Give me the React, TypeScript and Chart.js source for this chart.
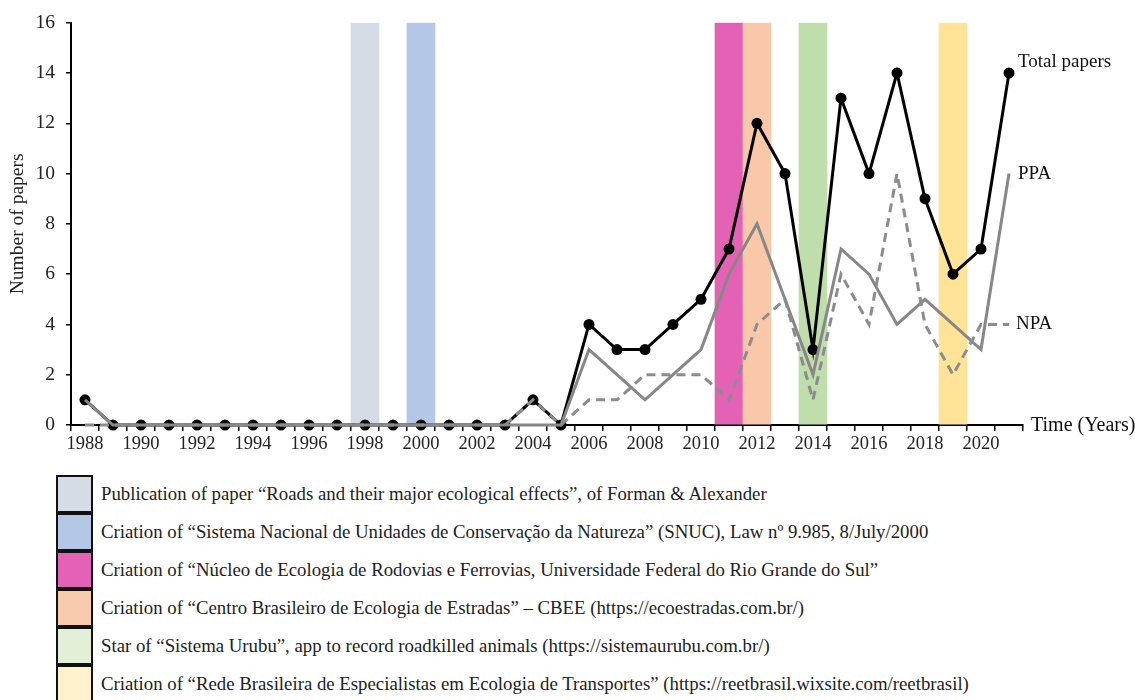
import React, { useEffect, useRef } from "react";
import { Chart, registerables } from "chart.js";

Chart.register(...registerables);

const years: string[] = [];
for (let y = 1988; y <= 2021; y++) years.push(String(y));

const totalPapers = [1, 0, 0, 0, 0, 0, 0, 0, 0, 0, 0, 0, 0, 0, 0, 0, 1, 0, 4, 3, 3, 4, 5, 7, 12, 10, 3, 13, 10, 14, 9, 6, 7, 14];
const ppa = [1, 0, 0, 0, 0, 0, 0, 0, 0, 0, 0, 0, 0, 0, 0, 0, 0, 0, 3, 2, 1, 2, 3, 6, 8, 5, 2, 7, 6, 4, 5, 4, 3, 10];
const npa = [0, 0, 0, 0, 0, 0, 0, 0, 0, 0, 0, 0, 0, 0, 0, 0, 1, 0, 1, 1, 2, 2, 2, 1, 4, 5, 1, 6, 4, 10, 4, 2, 4, 4];

const bandYears = ["1998", "2000", "2011", "2012", "2014", "2019"];
const bandColors = ["#D5DCE5", "#B4C7E7", "#E462B6", "#F8C8A8", "#C0DDAC", "#FFE497"];
const legendColors = ["#D6DCE5", "#B4C7E7", "#E462B6", "#F8CBAD", "#E2F0D9", "#FFF2CC"];
const legendTexts = [
  "Publication of paper \u201cRoads and their major ecological effects\u201d, of Forman & Alexander",
  "Criation of \u201cSistema Nacional de Unidades de Conserva\u00e7\u00e3o da Natureza\u201d (SNUC), Law n\u00ba 9.985, 8/July/2000",
  "Criation of \u201cN\u00facleo de Ecologia de Rodovias e Ferrovias, Universidade Federal do Rio Grande do Sul\u201d",
  "Criation of \u201cCentro Brasileiro de Ecologia de Estradas\u201d \u2013 CBEE (https://ecoestradas.com.br/)",
  "Star of \u201cSistema Urubu\u201d, app to record roadkilled animals (https://sistemaurubu.com.br/)",
  "Criation of \u201cRede Brasileira de Especialistas em Ecologia de Transportes\u201d (https://reetbrasil.wixsite.com/reetbrasil)",
];

const seriesLabels = ["Total papers", "PPA", "NPA"];
const yTicks = [0, 2, 4, 6, 8, 10, 12, 14, 16];
const xTitle = "Time (Years)";
const yTitle = "Number of papers";

const FONT = "'Liberation Serif', 'Times New Roman', serif";

export default function App() {
  const ref = useRef<HTMLCanvasElement>(null);

  useEffect(() => {
    if (!ref.current) return;
    const bandData = years.map((y) => (bandYears.includes(y) ? 16 : null));
    const bandBg = years.map((y) => {
      const i = bandYears.indexOf(y);
      return i >= 0 ? bandColors[i] : "rgba(0,0,0,0)";
    });

    const labelPlugin = {
      id: "endLabels",
      afterDatasetsDraw(chart: any) {
        const ctx = chart.ctx;
        const xs = chart.scales.x;
        const ys = chart.scales.y;
        const last = years.length - 1;
        const xEnd = xs.getPixelForValue(last);
        ctx.save();
        ctx.fillStyle = "#111";
        ctx.font = `19px ${FONT}`;
        ctx.textAlign = "left";
        ctx.textBaseline = "middle";
        ctx.fillText(seriesLabels[0], xEnd + 9, ys.getPixelForValue(totalPapers[last]) - 11);
        ctx.fillText(seriesLabels[1], xEnd + 9, ys.getPixelForValue(ppa[last]));
        ctx.fillText(seriesLabels[2], xEnd + 7, ys.getPixelForValue(npa[last]));
        ctx.font = `20px ${FONT}`;
        ctx.fillText(xTitle, chart.chartArea.right + 8, ys.getPixelForValue(0) + 1);
        ctx.restore();
      },
    };

    const chart = new Chart(ref.current, {
      type: "line",
      data: {
        labels: years,
        datasets: [
          {
            type: "bar",
            label: "bands",
            data: bandData as any,
            backgroundColor: bandBg,
            barPercentage: 1,
            categoryPercentage: 1,
            order: 10,
            grouped: false,
          } as any,
          {
            label: seriesLabels[2],
            data: npa,
            borderColor: "#8C8C8C",
            borderWidth: 3,
            borderDash: [9, 6],
            pointRadius: 0,
            fill: false,
            order: 1,
            clip: false,
          } as any,
          {
            label: seriesLabels[1],
            data: ppa,
            borderColor: "#878787",
            borderWidth: 3,
            pointRadius: 0,
            fill: false,
            order: 2,
            clip: false,
          } as any,
          {
            label: seriesLabels[0],
            data: totalPapers,
            borderColor: "#000",
            borderWidth: 3,
            pointRadius: 5.5,
            pointBackgroundColor: "#000",
            pointBorderColor: "#000",
            pointBorderWidth: 0,
            fill: false,
            order: 3,
            clip: false,
          } as any,
        ],
      },
      options: {
        responsive: false,
        animation: false,
        devicePixelRatio: 1,
        layout: { padding: { left: 0, right: 112, top: 19, bottom: 0 } },
        plugins: { legend: { display: false }, tooltip: { enabled: false } },
        scales: {
          x: {
            type: "category",
            offset: true,
            grid: {
              offset: true,
              drawOnChartArea: false,
              drawTicks: true,
              tickLength: 6,
              color: "#000",
              lineWidth: 1.5,
            },
            border: { display: true, color: "#000", width: 2 },
            ticks: {
              autoSkip: false,
              maxRotation: 0,
              minRotation: 0,
              padding: 2,
              color: "#222",
              font: { family: FONT, size: 18.5 },
              callback: (_v: any, i: number) => (i % 2 === 0 ? years[i] : ""),
            },
            afterFit: (s: any) => {
              s.height = 40;
            },
          },
          y: {
            min: 0,
            max: 16,
            afterBuildTicks: (s: any) => {
              s.ticks = yTicks.map((v) => ({ value: v }));
            },
            grid: {
              drawOnChartArea: false,
              drawTicks: true,
              tickLength: 5,
              color: "#000",
              lineWidth: 1.5,
            },
            border: { display: true, color: "#000", width: 2 },
            ticks: {
              padding: 11,
              color: "#222",
              font: { family: FONT, size: 19.5 },
            },
            title: {
              display: true,
              text: yTitle,
              color: "#222",
              font: { family: FONT, size: 19.5 },
              padding: { top: 6, bottom: 0 },
            },
            afterFit: (s: any) => {
              s.width = 71;
            },
          },
        },
      },
      plugins: [labelPlugin],
    });
    return () => chart.destroy();
  }, []);

  return (
    <div
      style={{
        position: "absolute",
        left: 0,
        top: 0,
        width: 1135,
        height: 700,
        background: "#fff",
        overflow: "hidden",
        fontFamily: FONT,
      }}
    >
      <canvas ref={ref} width={1135} height={465} style={{ position: "absolute", left: 0, top: 0 }} />
      {legendTexts.map((t, i) => (
        <div key={i}>
          <div
            style={{
              position: "absolute",
              left: 56,
              top: 475 + i * 38,
              width: 33,
              height: 34,
              background: legendColors[i],
              border: "2px solid #111",
            }}
          />
          <div
            style={{
              position: "absolute",
              left: 101,
              top: 475 + i * 38,
              height: 38,
              lineHeight: "38px",
              fontSize: 18.8,
              color: "#222",
              whiteSpace: "nowrap",
            }}
          >
            {t}
          </div>
        </div>
      ))}
    </div>
  );
}
